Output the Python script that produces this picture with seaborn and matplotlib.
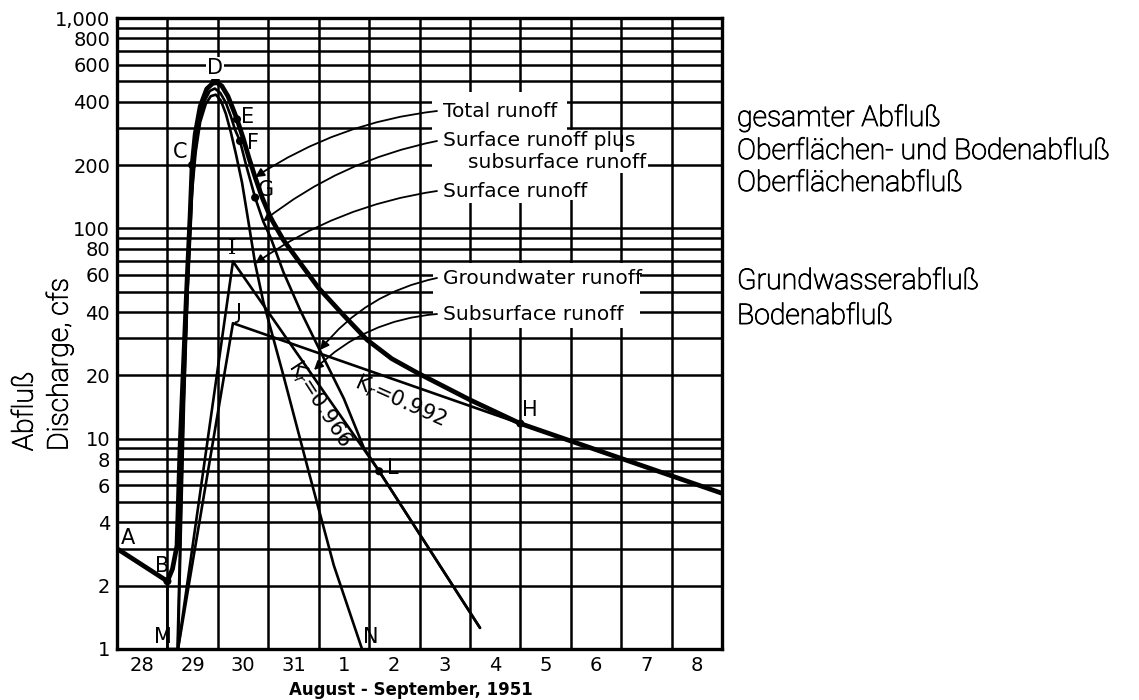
import numpy as np
import matplotlib
matplotlib.use("Agg")
import matplotlib.pyplot as plt
import matplotlib.ticker as mticker
import matplotlib.patheffects as pe
from matplotlib.patches import Rectangle
import seaborn as sns

# ---- data (x = days since 28 Aug 1951, 00:00; y = discharge in cfs) ----
day_labels = ["28", "29", "30", "31", "1", "2", "3", "4", "5", "6", "7", "8"]

total_x = [0.0, 1.0, 1.10, 1.19, 1.25, 1.31, 1.38, 1.45, 1.49, 1.55, 1.65, 1.78, 1.94,
           2.08, 2.20, 2.30, 2.38, 2.50, 2.62, 2.74, 2.88, 3.05, 3.30, 3.63,
           4.00, 4.50, 4.96, 5.45, 5.95, 7.00, 8.00, 12.0]
total_y = [3.0, 2.1, 2.4, 3.1, 9, 20, 50, 115, 200, 280, 380, 460, 500,
           475, 425, 370, 330, 270, 215, 175, 140, 112, 88, 68.6,
           52, 38.5, 29.5, 24, 20.6, 15.3, 11.8, 5.5]

sfsub_x = [1.20, 1.25, 1.31, 1.39, 1.47, 1.53, 1.62, 1.73, 1.84, 1.94, 2.05, 2.16,
           2.26, 2.34, 2.44, 2.56, 2.74, 2.90, 3.05, 3.30, 3.63, 4.00, 4.50, 4.90, 5.20, 7.20]
sfsub_y = [1.0, 3.0, 12, 45, 130, 210, 310, 400, 450, 462, 440, 395,
           340, 295, 260, 200, 140, 108, 90, 62, 41, 27, 15.5, 9.0, 7.0, 1.26]

surf_x = [1.21, 1.27, 1.33, 1.41, 1.49, 1.56, 1.65, 1.76, 1.86, 1.96, 2.06, 2.16,
          2.26, 2.36, 2.48, 2.60, 2.74, 2.90, 3.30, 3.80, 4.30, 4.86]
surf_y = [1.0, 4.0, 15, 60, 150, 230, 320, 390, 425, 432, 405, 350,
          285, 225, 165, 110, 68, 45, 20, 7.0, 2.5, 1.0]

subsurf_x = [1.21, 2.30, 5.20, 7.20]
subsurf_y = [1.0, 69.6, 7.0, 1.26]

ground_x = [1.0, 1.0, 1.21, 2.30, 8.00, 12.0]
ground_y = [2.1, 1.0, 1.0, 35.4, 11.8, 5.5]

# labelled points on the curves
pt_x = [1.0, 1.49, 1.94, 2.38, 2.44, 2.74, 8.00, 5.20]
pt_y = [2.1, 200, 500, 330, 260, 140, 11.8, 7.0]

y_grid = [1, 2, 3, 4, 5, 6, 7, 8, 9, 10, 20, 30, 40, 50, 60, 70, 80, 90,
          100, 200, 300, 400, 500, 600, 700, 800, 900, 1000]
y_labelled = [1, 2, 4, 6, 8, 10, 20, 40, 60, 80, 100, 200, 400, 600, 800, 1000]

# ---- figure ----
sns.set_theme(style="white")
plt.rcParams["font.family"] = ["DejaVu Sans"]
plt.rcParams["text.color"] = "black"
W, H = 1139, 700
fig = plt.figure(figsize=(W / 100, H / 100), dpi=100)
L0, R0, T0, B0 = 117, 722, 18, 649
ax = fig.add_axes([L0 / W, 1 - B0 / H, (R0 - L0) / W, (B0 - T0) / H])

ax.set_yscale("log")
ax.set_xlim(0, 12)
ax.set_ylim(1, 1000)

def fx(px):
    return (px - L0) / (R0 - L0)

def fy(py):
    return (B0 - py) / (B0 - T0)

# grid: every day boundary, and 1-2-...-9 steps of each decade
ax.set_yticks(y_grid)
ax.set_yticklabels([f"{v:,}" if v in y_labelled else "" for v in y_grid])
ax.yaxis.set_minor_locator(mticker.NullLocator())
ax.set_xticks(np.arange(0.5, 12, 1.0))
ax.set_xticklabels(day_labels)
ax.set_xticks(np.arange(1, 12, 1.0), minor=True)
ax.tick_params(axis="both", which="both", length=0, labelsize=14, colors="black")
ax.tick_params(axis="y", pad=5)
ax.tick_params(axis="x", pad=5)
ax.grid(axis="y", which="major", color="black", lw=1.8)
ax.grid(axis="x", which="minor", color="black", lw=1.8)
ax.grid(axis="x", which="major", visible=False)
ax.set_axisbelow(True)
for s in ax.spines.values():
    s.set_color("black")
    s.set_linewidth(2.4)

# blank panels behind the curve labels
for (x0, y0, x1, y1) in [(432, 92, 567, 203), (563, 130, 580, 200), (433, 263, 640, 328)]:
    ax.add_patch(Rectangle((fx(x0), fy(y1)), fx(x1) - fx(x0), fy(y0) - fy(y1),
                           transform=ax.transAxes, facecolor="white", edgecolor="none", zorder=1))

# curves
kw = dict(color="black", estimator=None, sort=False, legend=False, ax=ax, zorder=3)
sns.lineplot(x=ground_x, y=ground_y, lw=1.9, **kw)
sns.lineplot(x=subsurf_x, y=subsurf_y, lw=1.9, **kw)
sns.lineplot(x=surf_x, y=surf_y, lw=1.9, **kw)
sns.lineplot(x=sfsub_x, y=sfsub_y, lw=1.9, **kw)
sns.lineplot(x=total_x, y=total_y, lw=3.4, **kw)
sns.scatterplot(x=pt_x, y=pt_y, color="black", s=34, edgecolor="none", ax=ax, zorder=4)

ax.set_xlabel("")
ax.set_ylabel("")

# point letters
letters = {"A": (128, 538), "B": (162, 566), "C": (180, 152), "D": (215, 68),
           "E": (248, 117), "F": (253, 143), "G": (266, 190), "H": (530, 410),
           "I": (232, 248), "J": (238, 313), "L": (393, 468), "M": (163, 637),
           "N": (371, 637)}
for t, (px, py) in letters.items():
    bb = dict(facecolor="white", edgecolor="none", pad=1) if t == "D" else None
    fam = ["DejaVu Serif"] if t == "I" else ["DejaVu Sans"]
    ax.text(fx(px), fy(py), t, transform=ax.transAxes, ha="center", va="center",
            fontsize=15, zorder=6, bbox=bb, family=fam)

# recession constants
ax.text(fx(320), fy(404), "K$_r$=0.966", transform=ax.transAxes, rotation=-57,
        ha="center", va="center", fontsize=15, zorder=6)
ax.text(fx(400), fy(401), "K$_r$=0.992", transform=ax.transAxes, rotation=-24,
        ha="center", va="center", fontsize=15, zorder=6)

# curve labels with leader arrows
label_kw = dict(transform=ax.transAxes, ha="left", va="baseline", fontsize=14.5, zorder=6)
ax.text(fx(443), fy(117), "Total runoff", **label_kw)
ax.text(fx(443), fy(146), "Surface runoff plus", **label_kw)
ax.text(fx(468), fy(168), "subsurface runoff",
        bbox=dict(facecolor="white", edgecolor="none", pad=1), **label_kw)
ax.text(fx(443), fy(197), "Surface runoff", **label_kw)
ax.text(fx(443), fy(284), "Groundwater runoff", **label_kw)
ax.text(fx(443), fy(320), "Subsurface runoff", **label_kw)

arrow_kw = dict(arrowstyle="-|>", color="black", lw=1.3, shrinkA=0, shrinkB=0,
                mutation_scale=13)
tips = [((437, 111), (total_x[19], total_y[19]), "data", 0.12),
        ((437, 141), (sfsub_x[17], sfsub_y[17]), "data", 0.12),
        ((437, 191), (surf_x[16], surf_y[16]), "data", 0.12),
        ((437, 278), (fx(320), fy(350)), "axes fraction", 0.18),
        ((437, 314), (fx(314), fy(370)), "axes fraction", 0.18)]
for (sx, sy), tip, coords, rad in tips:
    ax.annotate("", xy=tip, xycoords=coords, xytext=(fx(sx), fy(sy)),
                textcoords="axes fraction", zorder=5,
                arrowprops=dict(connectionstyle=f"arc3,rad={rad}", **arrow_kw))

# axis titles (thin lettering, slightly stroked so it stays solid black)
cond = ["Roboto", "DejaVu Sans"]
thin = dict(family=cond, fontweight="light", color="black",
            path_effects=[pe.withStroke(linewidth=0.7, foreground="black")])
fig.text(25 / W, 1 - 451 / H, "Abfluß", rotation=90, ha="center", va="bottom",
         fontsize=20.5, **thin)
fig.text(60 / W, 1 - 451 / H, "Discharge, cfs", rotation=90, ha="center", va="bottom",
         fontsize=20.5, **thin)
fig.text(411 / W, 1 - 690 / H, "August - September, 1951", ha="center", va="center",
         fontsize=12, fontweight="bold", color="black")

# German equivalents of the curve names
german = [("gesamter Abfluß", 126), ("Oberflächen- und Bodenabfluß", 159),
          ("Oberflächenabfluß", 191), ("Grundwasserabfluß", 289), ("Bodenabfluß", 324)]
for t, py in german:
    fig.text(737 / W, 1 - py / H, t, ha="left", va="baseline", fontsize=20.5, **thin)

fig.savefig("out.png", dpi=100, facecolor="white")
